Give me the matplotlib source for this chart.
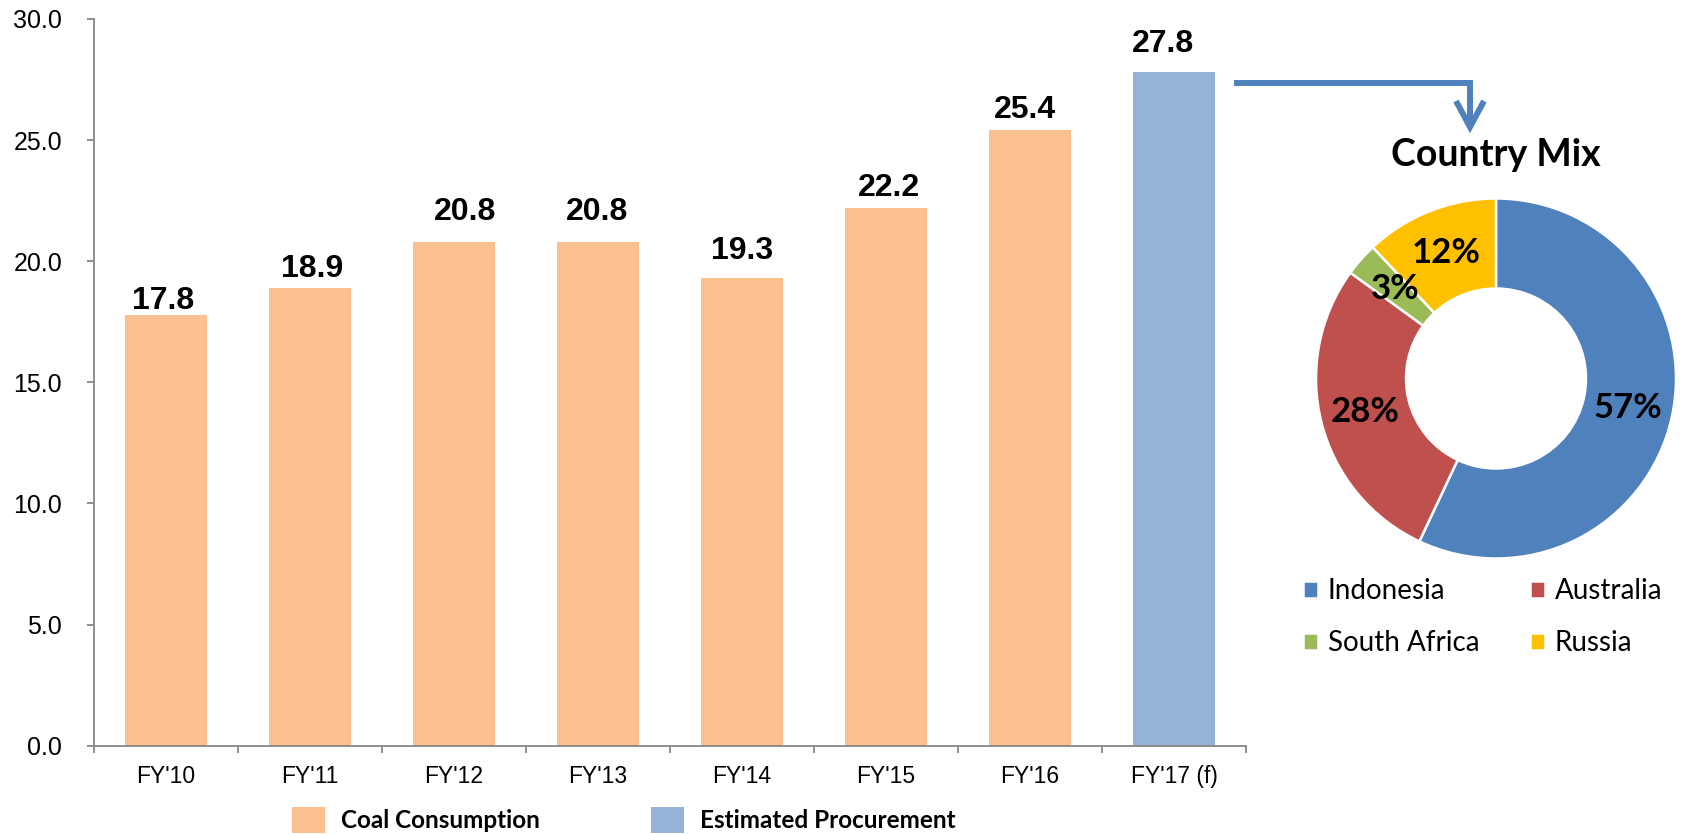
import matplotlib
matplotlib.use('Agg')
import matplotlib.pyplot as plt
from matplotlib.lines import Line2D
import numpy as np

# ---------------- data ----------------
categories = ["FY'10", "FY'11", "FY'12", "FY'13", "FY'14", "FY'15", "FY'16", "FY'17 (f)"]
volumes = [17.8, 18.9, 20.8, 20.8, 19.3, 22.2, 25.4, 27.8]
series_kind = ["Coal Consumption"] * 7 + ["Estimated Procurement"]
series_names = ["Coal Consumption", "Estimated Procurement"]
yticks = [0, 5, 10, 15, 20, 25, 30]

countries = ["Indonesia", "Australia", "South Africa", "Russia"]
shares = [57, 28, 3, 12]
pie_title = "Country Mix"

# ---------------- style ----------------
series_colors = {"Coal Consumption": "#FAC090", "Estimated Procurement": "#95B3D7"}
country_colors = ["#4F81BD", "#C0504D", "#9BBB59", "#FFC000"]
label_dx_px = [-3, 2, 11, -1, 0, 3, -5, -11]
label_gap_px = [6, 11, 22, 22, 19, 12, 12, 20]
axis_gray = "#868686"
ARIAL = "Liberation Sans"
CALIBRI = "Lato"

plt.rcParams['font.family'] = [ARIAL, 'DejaVu Sans']

W, H = 1684, 834
fig = plt.figure(figsize=(W / 100, H / 100), dpi=100)


def fx(px):
    return px / W


def fy(py):
    return (H - py) / H


# ---------------- bar chart ----------------
x0, x1, y0, y1 = 94, 1246, 745.7, 19
ax = fig.add_axes([fx(x0), fy(y0), fx(x1 - x0), (y0 - y1) / H])
handles = {}
for i, (c, v, k) in enumerate(zip(categories, volumes, series_kind)):
    b = ax.bar(i, v, width=0.57, color=series_colors[k], label=k, zorder=2)
    handles.setdefault(k, b)
    ax.annotate(f"{v:.1f}", xy=(i, v),
                xytext=(label_dx_px[i] * 0.72, label_gap_px[i] * 0.72),
                textcoords='offset points', ha='center', va='baseline',
                fontsize=23, fontweight='bold', color='black')

ax.set_xlim(-0.5, len(categories) - 0.5)
ax.set_ylim(yticks[0], yticks[-1])
ax.set_yticks(yticks)
ax.set_yticklabels([f"{t:.1f}" for t in yticks])
ax.set_xticks(np.arange(len(categories)))
ax.set_xticklabels(categories)
ax.set_xticks(np.arange(len(categories) + 1) - 0.5, minor=True)
ax.tick_params(axis='x', which='major', length=0, pad=14, labelsize=16.5)
ax.tick_params(axis='x', which='minor', length=5, width=1.3, color=axis_gray)
ax.tick_params(axis='y', which='major', length=5, width=1.3, color=axis_gray,
               pad=18, labelsize=18)
for s in ['top', 'right']:
    ax.spines[s].set_visible(False)
for s in ['left', 'bottom']:
    ax.spines[s].set_color(axis_gray)
    ax.spines[s].set_linewidth(1.3)

fig.legend([handles[n] for n in series_names], series_names,
           loc='lower left', bbox_to_anchor=(fx(292), fy(833)),
           ncol=2, frameon=False, borderpad=0, borderaxespad=0,
           handlelength=1.35, handleheight=1.3, handletextpad=0.65,
           columnspacing=4.6,
           prop={'family': CALIBRI, 'weight': 'bold', 'size': 17.5})

# ---------------- arrow ----------------
arrow_color = "#4F81BD"
lw = 4.3
fig.add_artist(Line2D([fx(1234), fx(1470), fx(1470)], [fy(83), fy(83), fy(126)],
                      transform=fig.transFigure, color=arrow_color, lw=lw,
                      solid_joinstyle='miter', solid_capstyle='butt'))
fig.add_artist(Line2D([fx(1456), fx(1470), fx(1484)], [fy(101), fy(127), fy(101)],
                      transform=fig.transFigure, color=arrow_color, lw=lw,
                      solid_joinstyle='miter', solid_capstyle='butt'))

# ---------------- donut ----------------
cx, cy, r = 1496, 378.5, 180
pax = fig.add_axes([fx(cx - r), fy(cy + r), 2 * r / W, 2 * r / H])
wedges, _, autotexts = pax.pie(
    shares, colors=country_colors, startangle=90, counterclock=False,
    radius=1.0, autopct=lambda p: f"{p:.0f}%", pctdistance=0.75,
    wedgeprops=dict(width=0.5, edgecolor='white', linewidth=1.8),
    textprops=dict(fontsize=25, fontweight='bold', family=CALIBRI, color='black'))
pax.set_xlim(-1.0, 1.0)
pax.set_ylim(-1.0, 1.0)
pax.set_aspect('equal')
pax.axis('off')

fig.text(fx(1496), fy(155), pie_title, ha='center', va='center',
         fontsize=27, fontweight='bold', family=CALIBRI)

# legend fills column-first: order so rows read Indonesia/Australia, South Africa/Russia
order = [0, 2, 1, 3]
fig.legend([wedges[i] for i in order], [countries[i] for i in order],
           loc='upper left', bbox_to_anchor=(fx(1303), fy(578)), ncol=2,
           frameon=False, borderpad=0, borderaxespad=0,
           handlelength=0.55, handleheight=0.55, handletextpad=0.35,
           columnspacing=1.8, labelspacing=0.95,
           prop={'family': CALIBRI, 'size': 20})

fig.savefig('out.png', dpi=100)
